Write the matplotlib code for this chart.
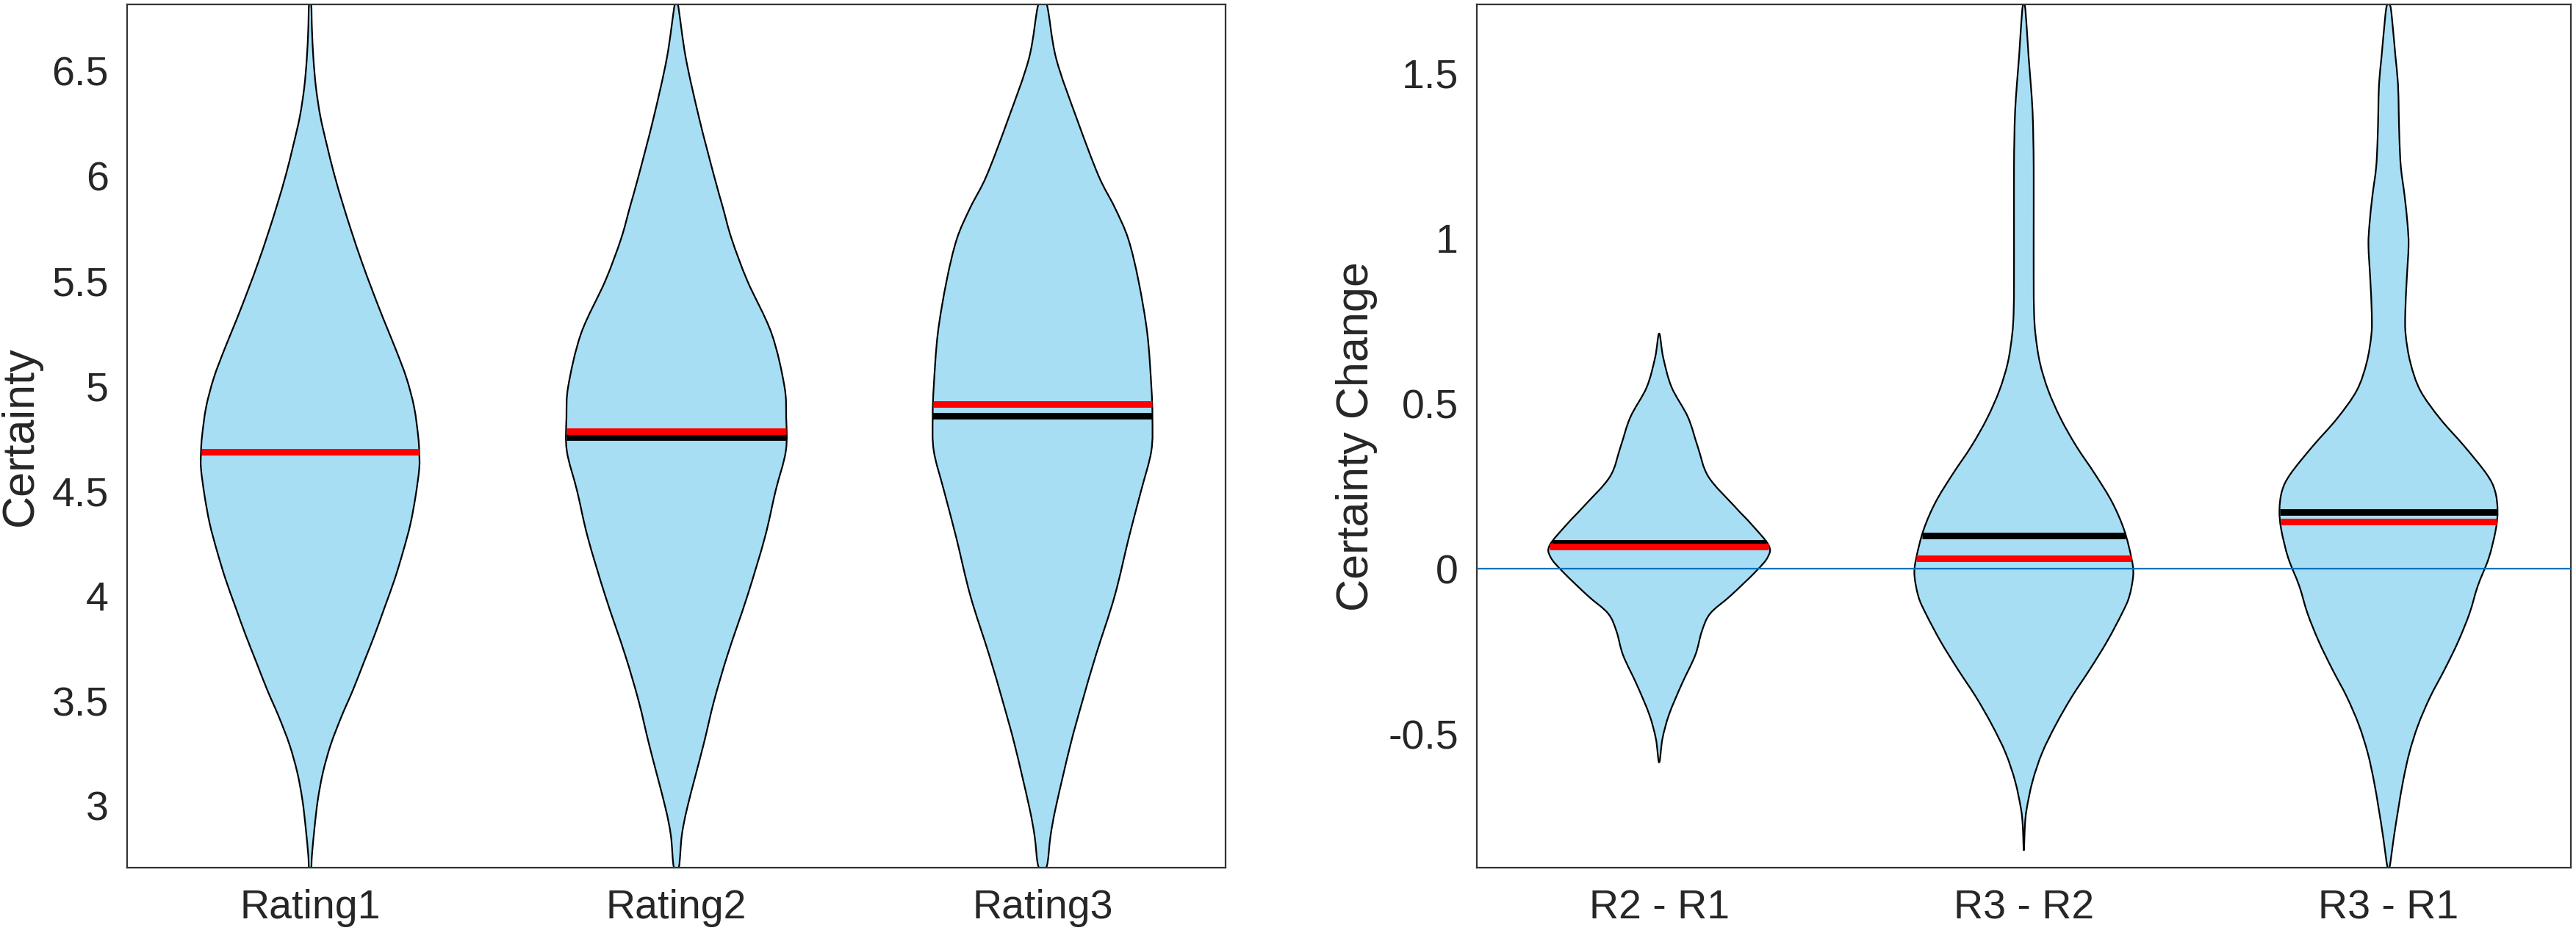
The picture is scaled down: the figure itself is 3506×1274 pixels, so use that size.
import numpy as np
import matplotlib
matplotlib.use("Agg")
import matplotlib.pyplot as plt
from matplotlib.path import Path
from matplotlib.patches import PathPatch

plt.rcParams['font.family'] = ['Liberation Sans', 'DejaVu Sans']

# ---------------- data ----------------
# left panel: certainty ratings (y level, half width of the violin)
rating_labels = ['Rating1', 'Rating2', 'Rating3']
r1_y = [6.815, 6.698, 6.559, 6.421, 6.283, 6.145, 6.006, 5.868, 5.730, 5.591, 5.454,
        5.315, 5.178, 5.038, 4.899, 4.762, 4.685, 4.606, 4.475, 4.343, 4.212, 4.08,
        3.948, 3.818, 3.685, 3.552, 3.423, 3.29, 3.159, 3.028, 2.895, 2.766, 2.706]
r1_w = [0.003, 0.005, 0.009, 0.016, 0.028, 0.046, 0.066, 0.089, 0.114, 0.141, 0.170,
        0.201, 0.233, 0.263, 0.284, 0.295, 0.298, 0.298, 0.288, 0.274, 0.254, 0.231,
        0.204, 0.177, 0.147, 0.117, 0.085, 0.056, 0.035, 0.021, 0.012, 0.005, 0.003]
r23_y = [6.82, 6.56, 6.27, 6.0, 5.85, 5.7, 5.5, 5.25, 5.0, 4.85, 4.69,
         4.5, 4.28, 4.0, 3.72, 3.5, 3.29, 3.0, 2.86, 2.71]
r2_w = [0.004, 0.026, 0.063, 0.103, 0.127, 0.151, 0.194, 0.260, 0.295, 0.300, 0.299,
        0.271, 0.242, 0.194, 0.140, 0.103, 0.074, 0.031, 0.015, 0.007]
r3_w = [0.011, 0.037, 0.094, 0.153, 0.197, 0.234, 0.262, 0.286, 0.297, 0.300, 0.297,
        0.269, 0.236, 0.197, 0.146, 0.109, 0.076, 0.037, 0.022, 0.011]
rating_mean = [4.685, 4.784, 4.912]     # red
rating_median = [4.685, 4.756, 4.858]   # black

# right panel: certainty change
change_labels = ['R2 - R1', 'R3 - R2', 'R3 - R1']
d21_y = [0.712, 0.640, 0.550, 0.459, 0.369, 0.279, 0.189, 0.135, 0.072, 0.036, -0.009,
         -0.081, -0.135, -0.189, -0.261, -0.351, -0.441, -0.514, -0.586]
d21_w = [0.0, 0.011, 0.034, 0.079, 0.106, 0.135, 0.207, 0.253, 0.300, 0.298, 0.264,
         0.196, 0.140, 0.117, 0.099, 0.061, 0.027, 0.009, 0.0]
d32_y = [1.703, 1.636, 1.551, 1.467, 1.383, 1.298, 1.214, 1.045, 0.876, 0.776, 0.709,
         0.624, 0.540, 0.455, 0.371, 0.287, 0.202, 0.118, 0.033, -0.018, -0.084,
         -0.135, -0.220, -0.304, -0.388, -0.473, -0.557, -0.642, -0.725, -0.776, -0.852]
d32_w = [0.003, 0.008, 0.013, 0.019, 0.024, 0.026, 0.027, 0.027, 0.027, 0.028, 0.032,
         0.044, 0.067, 0.101, 0.144, 0.195, 0.242, 0.275, 0.295, 0.300, 0.289,
         0.269, 0.228, 0.181, 0.131, 0.087, 0.050, 0.024, 0.008, 0.003, 0.0]
d31_y = [1.703, 1.636, 1.551, 1.467, 1.383, 1.298, 1.214, 1.130, 1.045, 0.978, 0.876,
         0.776, 0.709, 0.624, 0.540, 0.455, 0.371, 0.287, 0.236, 0.177, 0.118, 0.033,
         -0.051, -0.135, -0.220, -0.304, -0.388, -0.473, -0.557, -0.642, -0.725,
         -0.809, -0.902]
d31_w = [0.005, 0.012, 0.019, 0.026, 0.028, 0.030, 0.034, 0.044, 0.052, 0.055, 0.050,
         0.046, 0.047, 0.060, 0.087, 0.141, 0.208, 0.269, 0.292, 0.299, 0.294, 0.275,
         0.245, 0.222, 0.191, 0.154, 0.114, 0.081, 0.057, 0.040, 0.027,
         0.015, 0.003]
change_mean = [0.068, 0.031, 0.143]     # red
change_median = [0.079, 0.100, 0.171]   # black

FILL = '#A7DEF4'
TXT = '#262626'


def violin(ax, pos, ys, ws, mean, median):
    ys = np.asarray(ys, float)
    ws = np.asarray(ws, float)
    o = np.argsort(ys)
    ys, ws = ys[o], ws[o]
    right = np.column_stack([pos + ws, ys])
    left = np.column_stack([pos - ws, ys])[::-1]
    pts = np.vstack([right, left])
    keep = np.r_[True, np.any(np.abs(np.diff(pts, axis=0)) > 1e-9, axis=1)]
    pts = pts[keep]
    if np.allclose(pts[0], pts[-1]):
        pts = pts[:-1]
    n = len(pts)
    verts = [pts[0]]
    codes = [Path.MOVETO]
    for i in range(n):
        p0, p1, p2, p3 = pts[i - 1], pts[i], pts[(i + 1) % n], pts[(i + 2) % n]
        verts += [p1 + (p2 - p0) / 6, p2 - (p3 - p1) / 6, p2]
        codes += [Path.CURVE4] * 3
    ax.add_patch(PathPatch(Path(verts, codes), facecolor=FILL, edgecolor='black',
                           lw=0.8, zorder=2))
    for val, col in [(median, 'black'), (mean, 'red')]:
        w = np.interp(val, ys, ws)
        ax.plot([pos - w, pos + w], [val, val], color=col, lw=3.2,
                solid_capstyle='butt', zorder=3)


fig = plt.figure(figsize=(17.53, 6.37), dpi=200)
ax1 = fig.add_axes([0.0493, 0.073, 0.4265, 0.922])
ax2 = fig.add_axes([0.5733, 0.073, 0.4247, 0.922])

for i, (yy, w) in enumerate([(r1_y, r1_w), (r23_y, r2_w), (r23_y, r3_w)]):
    violin(ax1, i + 1, yy, w, rating_mean[i], rating_median[i])

for i, (yy, w) in enumerate([(d21_y, d21_w), (d32_y, d32_w), (d31_y, d31_w)]):
    violin(ax2, i + 1, yy, w, change_mean[i], change_median[i])
ax2.axhline(0, color='#0072BD', lw=0.8, zorder=4)

ax1.set_ylim(2.706, 6.815)
ax1.set_yticks([3, 3.5, 4, 4.5, 5, 5.5, 6, 6.5])
ax1.set_yticklabels(['3', '3.5', '4', '4.5', '5', '5.5', '6', '6.5'])
ax1.set_ylabel('Certainty', fontsize=22, color=TXT, labelpad=5)
ax1.set_xticks([1, 2, 3])
ax1.set_xticklabels(rating_labels)

ax2.set_ylim(-0.904, 1.707)
ax2.set_yticks([-0.5, 0, 0.5, 1, 1.5])
ax2.set_yticklabels(['-0.5', '0', '0.5', '1', '1.5'])
ax2.set_ylabel('Certainty Change', fontsize=22, color=TXT, labelpad=5)
ax2.set_xticks([1, 2, 3])
ax2.set_xticklabels(change_labels)

for ax in (ax1, ax2):
    ax.set_xlim(0.5, 3.5)
    ax.tick_params(axis='both', length=0, labelsize=20, colors=TXT)
    ax.tick_params(axis='y', pad=9)
    ax.tick_params(axis='x', pad=10.5)
    for s in ax.spines.values():
        s.set_color('#333333')
        s.set_linewidth(0.8)

fig.savefig('out.png', dpi=200, facecolor='white')
